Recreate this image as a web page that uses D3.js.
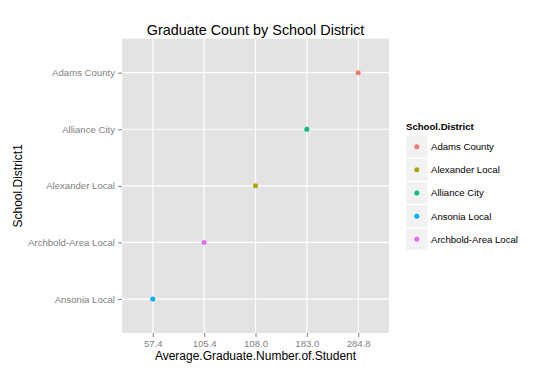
<!DOCTYPE html>
<html><head><meta charset="utf-8">
<script src="https://cdn.jsdelivr.net/npm/d3@7"></script>
<style>body{margin:0;background:#fff;}svg{display:block;font-family:"Liberation Sans",Arial,sans-serif;}</style>
</head><body>
<svg id="c" width="554" height="375"></svg>
<script>
const districts = ["Adams County","Alexander Local","Alliance City","Ansonia Local","Archbold-Area Local"];
const values = [284.8, 108.0, 183.0, 57.4, 105.4];
const xTickLabels = ["57.4","105.4","108.0","183.0","284.8"];
const yOrder = ["Ansonia Local","Archbold-Area Local","Alexander Local","Alliance City","Adams County"];
const colors = ["#F8766D","#A3A500","#00BF7D","#00B0F6","#E76BF3"];

const svg = d3.select("#c");
const P = {l:122, r:389, t:38.7, b:333};

const x = d3.scalePoint().domain(xTickLabels).range([P.l, P.r]).padding(0.6);
const y = d3.scalePoint().domain(yOrder).range([P.b, P.t]).padding(0.6);
const col = d3.scaleOrdinal().domain(districts).range(colors);

svg.append("rect").attr("x",P.l).attr("y",P.t).attr("width",P.r-P.l).attr("height",P.b-P.t).attr("fill","#E3E3E3");

const g = svg.append("g");
xTickLabels.forEach(t=>{
  g.append("line").attr("x1",x(t)).attr("x2",x(t)).attr("y1",P.t).attr("y2",P.b).attr("stroke","#fff").attr("stroke-width",1.2);
});
yOrder.forEach(t=>{
  g.append("line").attr("x1",P.l).attr("x2",P.r).attr("y1",y(t)).attr("y2",y(t)).attr("stroke","#fff").attr("stroke-width",1.2);
});

const xAxis = svg.append("g").attr("transform",`translate(0,${P.b})`)
  .call(d3.axisBottom(x).tickSizeOuter(0).tickSize(4).tickPadding(3));
const yAxis = svg.append("g").attr("transform",`translate(${P.l},0)`)
  .call(d3.axisLeft(y).tickSizeOuter(0).tickSize(4).tickPadding(3));
[xAxis,yAxis].forEach(a=>{
  a.select(".domain").remove();
  a.selectAll(".tick line").attr("stroke","#7F7F7F");
  a.selectAll(".tick text").attr("fill","#7F7F7F").style("font-size","9.6px").style("font-family","'Liberation Sans',Arial,sans-serif");
});

districts.forEach((d,i)=>{
  svg.append("circle").attr("cx",x(values[i].toFixed(1))).attr("cy",y(d)).attr("r",2.5).attr("fill",col(d));
});

svg.append("text").attr("x",(P.l+P.r)/2).attr("y",35).attr("text-anchor","middle").style("font-size","14.4px").attr("fill","#000").text("Graduate Count by School District");
svg.append("text").attr("x",(P.l+P.r)/2).attr("y",360).attr("text-anchor","middle").style("font-size","12px").attr("fill","#000").text("Average.Graduate.Number.of.Student");
svg.append("text").attr("transform",`translate(22,${(P.t+P.b)/2}) rotate(-90)`).attr("text-anchor","middle").style("font-size","12px").attr("fill","#000").text("School.District1");

const L = svg.append("g").attr("transform","translate(406,0)");
L.append("text").attr("x",0).attr("y",130).style("font-size","9.6px").style("font-weight","bold").text("School.District");
districts.forEach((d,i)=>{
  const cy = 146.7 + i*23.15;
  L.append("rect").attr("x",0).attr("y",cy-10.8).attr("width",21.6).attr("height",21.6).attr("fill","#F2F2F2");
  L.append("circle").attr("cx",10.8).attr("cy",cy).attr("r",2.5).attr("fill",col(d));
  L.append("text").attr("x",25).attr("y",cy+3.4).style("font-size","9.6px").attr("fill","#000").text(d);
});
</script>
</body></html>
